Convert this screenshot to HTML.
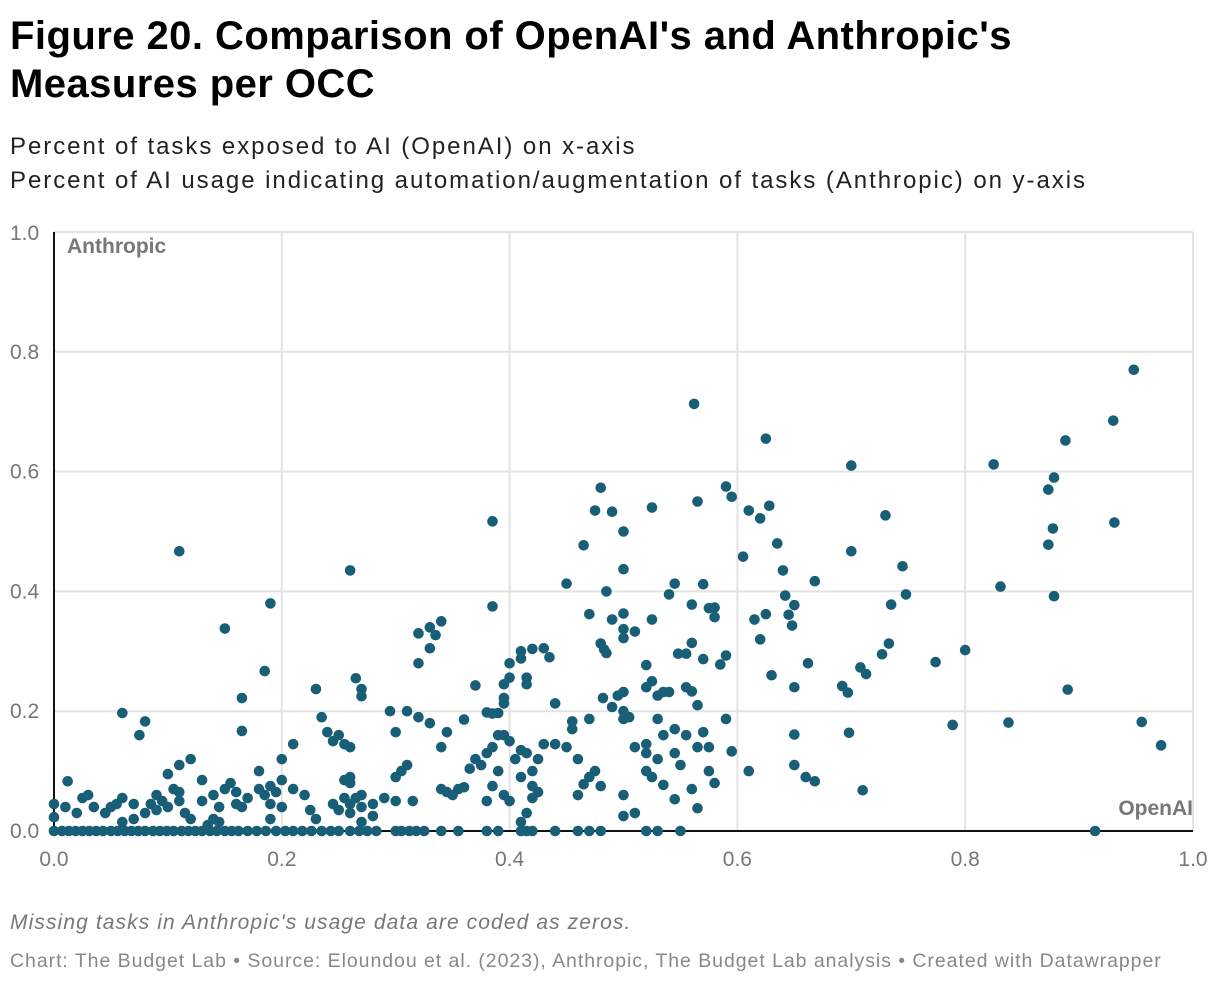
<!DOCTYPE html>
<html><head><meta charset="utf-8"><style>
body{margin:0;background:#fff;font-family:"Liberation Sans",Arial,sans-serif;}
.wrap{position:relative;width:1220px;height:986px;overflow:hidden}
h1{position:absolute;left:10px;top:12px;margin:0;font-size:40px;line-height:48px;font-weight:bold;color:#000;letter-spacing:0.45px}
.sub{position:absolute;left:10px;top:130px;font-size:24px;line-height:34px;color:#222;letter-spacing:1.95px}
.note{position:absolute;left:10px;top:911px;font-size:21px;font-style:italic;color:#777;letter-spacing:1.1px}
.src{position:absolute;left:10px;top:950px;font-size:19.5px;color:#888;letter-spacing:0.95px}
svg{position:absolute;left:0;top:0}
</style></head><body><div class="wrap">
<h1>Figure 20. Comparison of OpenAI's and Anthropic's<br>Measures per OCC</h1>
<div class="sub">Percent of tasks exposed to AI (OpenAI) on x-axis<br>Percent of AI usage indicating automation/augmentation of tasks (Anthropic) on y-axis</div>
<svg id="chart" width="1220" height="986"></svg>
<div class="note">Missing tasks in Anthropic's usage data are coded as zeros.</div>
<div class="src">Chart: The Budget Lab • Source: Eloundou et al. (2023), Anthropic, The Budget Lab analysis • Created with Datawrapper</div>
</div>
<script>
const xTicks=[0,0.2,0.4,0.6,0.8,1.0];
const yTicks=[0,0.2,0.4,0.6,0.8,1.0];
const xTickLabels=["0.0","0.2","0.4","0.6","0.8","1.0"];
const yTickLabels=["0.0","0.2","0.4","0.6","0.8","1.0"];
const openaiX=[0.948,0.93,0.888,0.825,0.878,0.873,0.877,0.873,0.931,0.831,0.878,0.89,0.955,0.972,0.838,0.789,0.8,0.774,0.914,
0.562,0.625,0.7,0.59,0.595,0.565,0.628,0.61,0.62,0.73,0.7,0.605,0.635,0.64,0.668,0.745,0.748,0.735,0.642,0.65,0.645,0.625,0.615,0.648,0.62,0.733,0.727,0.708,0.713,0.662,0.63,0.65,0.692,0.697,0.698,0.65,0.595,0.59,0.65,0.66,0.668,0.61,0.71,0.59,
0.385,0.48,0.475,0.49,0.5,0.525,0.465,0.45,0.485,0.5,0.54,0.545,0.57,0.575,0.58,0.58,0.56,0.525,0.51,0.5,0.5,0.5,0.49,0.47,0.48,0.485,0.483,0.548,0.555,0.56,0.57,0.585,0.52,0.525,0.52,0.535,0.54,0.53,0.555,0.56,0.565,0.5,0.495,0.482,0.49,0.5,0.505,0.5,0.47,0.455,0.44,0.435,0.43,0.42,0.41,0.41,0.415,0.415,0.4,0.4,0.395,0.395,0.395,0.39,0.38,0.385,0.385,0.37,0.36,0.33,0.34,0.335,0.33,0.32,0.32,0.31,0.32,0.33,0.34,0.345,0.53,0.545,0.535,0.52,0.51,0.52,0.53,0.545,0.555,0.57,0.565,0.575,0.55,0.52,0.525,0.535,0.545,0.5,0.51,0.5,0.48,0.475,0.47,0.465,0.46,0.46,0.455,0.45,0.44,0.43,0.425,0.42,0.415,0.41,0.405,0.41,0.42,0.42,0.415,0.41,0.425,0.4,0.395,0.39,0.385,0.38,0.375,0.37,0.365,0.36,0.355,0.35,0.345,0.34,0.38,0.385,0.39,0.4,0.395,0.565,0.58,0.575,0.56,
0.11,0.26,0.15,0.19,0.185,0.165,0.165,0.06,0.08,0.075,0.11,0.12,0.1,0.105,0.11,0.11,0.09,0.095,0.1,0.09,0.085,0.08,0.07,0.06,0.055,0.05,0.045,0.035,0.03,0.025,0.02,0.012,0.0,0.0,0.01,0.06,0.07,0.12,0.115,0.13,0.13,0.14,0.145,0.15,0.155,0.16,0.16,0.165,0.17,0.135,0.14,0.145,0.18,0.18,0.185,0.19,0.2,0.195,0.19,0.2,0.21,0.21,0.2,0.22,0.225,0.23,0.235,0.24,0.245,0.25,0.255,0.26,0.27,0.27,0.265,0.255,0.26,0.255,0.26,0.265,0.27,0.26,0.27,0.28,0.29,0.3,0.295,0.3,0.305,0.31,0.3,0.315,0.26,0.245,0.25,0.23,0.28,0.27,0.19,
0.0,0.007,0.013,0.019,0.025,0.031,0.037,0.043,0.05,0.056,0.062,0.068,0.074,0.08,0.087,0.093,0.099,0.105,0.112,0.118,0.124,0.13,0.137,0.143,0.15,0.156,0.162,0.17,0.178,0.186,0.195,0.203,0.21,0.218,0.226,0.235,0.243,0.25,0.26,0.268,0.275,0.283,0.3,0.305,0.312,0.318,0.325,0.34,0.355,0.38,0.39,0.41,0.415,0.42,0.44,0.46,0.47,0.48,0.52,0.53,0.55];
const anthropicY=[0.77,0.685,0.652,0.612,0.59,0.57,0.505,0.478,0.515,0.408,0.392,0.236,0.182,0.143,0.181,0.177,0.302,0.282,0.0,
0.713,0.655,0.61,0.575,0.558,0.55,0.543,0.535,0.522,0.527,0.467,0.458,0.48,0.435,0.417,0.442,0.395,0.378,0.393,0.377,0.361,0.362,0.353,0.343,0.32,0.313,0.295,0.273,0.262,0.28,0.26,0.24,0.242,0.231,0.164,0.161,0.133,0.187,0.11,0.09,0.083,0.1,0.068,0.293,
0.517,0.573,0.535,0.533,0.5,0.54,0.477,0.413,0.4,0.437,0.395,0.413,0.412,0.372,0.373,0.357,0.378,0.353,0.333,0.322,0.337,0.363,0.353,0.362,0.313,0.297,0.303,0.296,0.296,0.314,0.287,0.278,0.277,0.25,0.24,0.232,0.232,0.226,0.24,0.233,0.21,0.232,0.226,0.222,0.207,0.2,0.19,0.187,0.187,0.183,0.213,0.29,0.305,0.304,0.288,0.3,0.256,0.245,0.28,0.256,0.245,0.222,0.213,0.197,0.198,0.196,0.375,0.243,0.186,0.34,0.35,0.327,0.305,0.33,0.28,0.2,0.19,0.18,0.14,0.165,0.187,0.17,0.16,0.145,0.14,0.13,0.12,0.13,0.16,0.165,0.14,0.14,0.11,0.1,0.09,0.077,0.053,0.06,0.03,0.025,0.075,0.1,0.09,0.078,0.06,0.12,0.17,0.14,0.145,0.145,0.12,0.1,0.13,0.135,0.12,0.09,0.075,0.055,0.03,0.015,0.065,0.15,0.16,0.1,0.075,0.05,0.11,0.12,0.104,0.073,0.07,0.06,0.065,0.07,0.13,0.14,0.16,0.05,0.06,0.038,0.08,0.1,0.07,
0.467,0.435,0.338,0.38,0.267,0.222,0.167,0.197,0.183,0.16,0.11,0.12,0.095,0.07,0.065,0.05,0.06,0.05,0.04,0.035,0.045,0.03,0.045,0.055,0.045,0.04,0.03,0.04,0.06,0.055,0.03,0.083,0.045,0.023,0.04,0.015,0.02,0.02,0.03,0.085,0.05,0.06,0.04,0.07,0.08,0.065,0.045,0.04,0.055,0.01,0.02,0.015,0.1,0.07,0.06,0.075,0.085,0.065,0.045,0.04,0.07,0.145,0.12,0.06,0.035,0.237,0.19,0.165,0.15,0.16,0.145,0.14,0.237,0.225,0.255,0.085,0.08,0.055,0.045,0.055,0.06,0.03,0.04,0.045,0.055,0.05,0.2,0.165,0.1,0.11,0.09,0.05,0.09,0.045,0.035,0.02,0.025,0.015,0.02,
0,0,0,0,0,0,0,0,0,0,0,0,0,0,0,0,0,0,0,0,0,0,0,0,0,0,0,0,0,0,0,0,0,0,0,0,0,0,0,0,0,0,0,0,0,0,0,0,0,0,0,0,0,0,0,0,0,0,0,0,0];
const X0=54,X1=1193,Y0=831,Y1=232;
const sx=v=>X0+(X1-X0)*v, sy=v=>Y0-(Y0-Y1)*v;
const svg=document.getElementById('chart'),NS='http://www.w3.org/2000/svg';
function mk(t,a){const e=document.createElementNS(NS,t);for(const k in a)e.setAttribute(k,a[k]);svg.appendChild(e);return e;}
xTicks.forEach((v,i)=>{if(i>0){const l=mk('line',{x1:sx(v),x2:sx(v),y1:Y1,y2:Y0,stroke:'#e3e3e3','stroke-width':2});

}
const t=mk('text',{x:sx(v),y:866,'text-anchor':'middle','font-size':21,fill:'#777','font-family':'Liberation Sans, sans-serif'});t.textContent=xTickLabels[i];

});
yTicks.forEach((v,i)=>{if(i>0){const l=mk('line',{x1:X0,x2:X1,y1:sy(v),y2:sy(v),stroke:'#e3e3e3','stroke-width':2});

}
const t=mk('text',{x:10,y:sy(v)+(i==5?8:7),'font-size':21,fill:'#777','font-family':'Liberation Sans, sans-serif'});t.textContent=yTickLabels[i];

});
const ya=mk('line',{x1:X0,x2:X0,y1:Y1,y2:Y0,stroke:'#111','stroke-width':2});


const xa=mk('line',{x1:X0,x2:X1,y1:Y0,y2:Y0,stroke:'#111','stroke-width':2});


openaiX.forEach((v,i)=>{const c=mk('circle',{cx:sx(v),cy:sy(anthropicY[i]),r:5.3,fill:'#195e77'});

});
const a=mk('text',{x:67,y:253,'font-size':21,'font-weight':'bold',fill:'#777','font-family':'Liberation Sans, sans-serif'});a.textContent='Anthropic';


const o=mk('text',{x:1193,y:815,'text-anchor':'end','font-size':21,'font-weight':'bold',fill:'#777','font-family':'Liberation Sans, sans-serif'});o.textContent='OpenAI';


</script></body></html>
